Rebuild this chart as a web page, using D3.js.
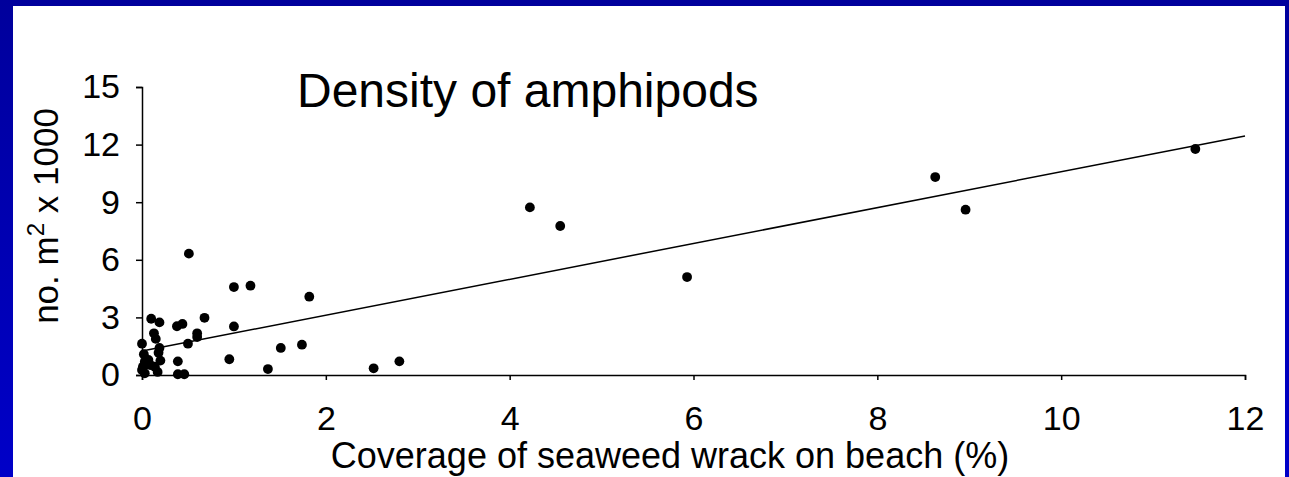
<!DOCTYPE html>
<html>
<head>
<meta charset="utf-8">
<script src="https://cdn.jsdelivr.net/npm/d3@7"></script>
<style>
    body { margin: 0; padding: 0; overflow: hidden; }
    text { font-family: "Liberation Sans", Arial, sans-serif; fill: #000; }
</style>
</head>
<body>
<svg id="chart" width="1289" height="477"></svg>
<script>
// coverage of wrack (%) and density (no. m^2 x 1000)
var coverage = [0.00, 0.02, 0.03, 0.01, 0.00, 0.03, 0.07, 0.09, 0.10, 0.13,
    0.14, 0.15, 0.17, 0.18, 0.19, 0.19, 0.20, 0.38, 0.39, 0.39,
    0.44, 0.46, 0.50, 0.51, 0.60, 0.60, 0.68, 0.95, 1.00, 1.00,
    1.18, 1.37, 1.51, 1.74, 1.82, 2.52, 2.80, 4.22, 4.55, 5.93,
    8.63, 8.96, 11.46];
var density = [1.63, 1.08, 0.69, 0.43, 0.26, 0.09, 0.78, 0.52, 2.93, 2.17,
    0.43, 1.88, 0.16, 1.16, 1.41, 2.74, 0.75, 2.54, 0.71, 0.04,
    2.66, 0.04, 1.63, 6.32, 2.17, 1.98, 2.98, 0.82, 4.58, 2.53,
    4.65, 0.31, 1.41, 1.58, 4.08, 0.35, 0.71, 8.73, 7.76, 5.10,
    10.31, 8.61, 11.77];
// trend line end points
var trendX = [0, 12];
var trendY = [1.25, 12.45];
var xTicks = [0, 2, 4, 6, 8, 10, 12];
var yTicks = [0, 3, 6, 9, 12, 15];

var svg = d3.select("#chart");

var defs = svg.append("defs");
var grad = defs.append("linearGradient")
    .attr("id", "frame")
    .attr("x1", 0).attr("y1", 0)
    .attr("x2", 0).attr("y2", 1);
grad.append("stop").attr("offset", "0%").attr("stop-color", "#00009c");
grad.append("stop").attr("offset", "100%").attr("stop-color", "#0000c8");

svg.append("rect")
    .attr("width", 1289).attr("height", 477)
    .attr("fill", "url(#frame)");
svg.append("rect")
    .attr("x", 13).attr("y", 6)
    .attr("width", 1272).attr("height", 480)
    .attr("fill", "#fff");

var x = d3.scaleLinear().domain([0, 12]).range([142, 1245]);
var y = d3.scaleLinear().domain([0, 15]).range([375, 87]);

// x axis
var xAxis = svg.append("g")
    .attr("transform", "translate(0,375)")
    .call(d3.axisBottom(x).tickValues(xTicks).tickSizeInner(5).tickSizeOuter(5).tickPadding(26));
xAxis.selectAll("text")
    .style("font-size", "34px")
    .attr("font-family", null);

// y axis
var yAxis = svg.append("g")
    .attr("transform", "translate(142,0)")
    .call(d3.axisLeft(y).tickValues(yTicks).tickSizeInner(6).tickSizeOuter(6).tickPadding(16));
yAxis.selectAll("text")
    .style("font-size", "34px")
    .attr("font-family", null);

svg.selectAll(".domain, .tick line")
    .attr("stroke", "#000")
    .attr("stroke-width", 1.5);

// trend line
var pairs = trendX.map(function (d, i) {
    return [d, trendY[i]];
});
svg.append("path")
    .datum(pairs)
    .attr("fill", "none")
    .attr("stroke", "#000")
    .attr("stroke-width", 1.5)
    .attr("d", d3.line()
        .x(function (d) { return x(d[0]); })
        .y(function (d) { return y(d[1]); }));

// points
svg.selectAll(".dot")
    .data(coverage)
    .enter().append("circle")
    .classed("dot", true)
    .attr("cx", function (d) { return x(d); })
    .attr("cy", function (d, i) { return y(density[i]); })
    .attr("r", 4.9)
    .attr("fill", "#000");

// title
svg.append("text")
    .attr("x", 297)
    .attr("y", 107)
    .style("font-size", "48px")
    .text("Density of amphipods");

// axis titles
svg.append("text")
    .attr("x", 670)
    .attr("y", 468)
    .attr("text-anchor", "middle")
    .style("font-size", "36px")
    .text("Coverage of seaweed wrack on beach (%)");

var yLabel = svg.append("text")
    .attr("transform", "translate(58,216) rotate(-90)")
    .attr("text-anchor", "middle")
    .style("font-size", "35px");
yLabel.append("tspan").text("no. m");
yLabel.append("tspan").attr("dy", -14).style("font-size", "24px").text("2");
yLabel.append("tspan").attr("dy", 14).text(" x 1000");
</script>
</body>
</html>
